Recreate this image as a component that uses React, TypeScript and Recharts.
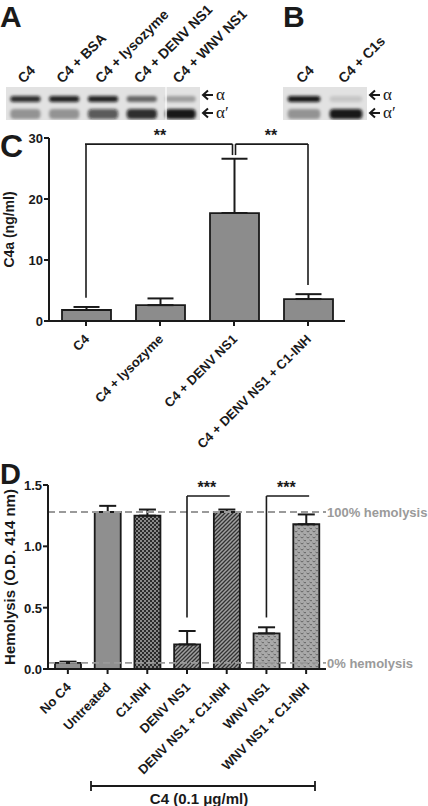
import React from 'react';
import {
  BarChart,
  Bar,
  XAxis,
  YAxis,
  ErrorBar,
  Cell,
  ReferenceLine,
} from 'recharts';

// panel A / B gels: band darkness per lane (0..1)
const gelALanes = ['C4', 'C4 + BSA', 'C4 + lysozyme', 'C4 + DENV NS1', 'C4 + WNV NS1'];
const gelAAlpha = [0.85, 0.9, 0.9, 0.55, 0.3];
const gelAAlphaPrime = [0.35, 0.35, 0.65, 0.85, 0.95];
const gelBLanes = ['C4', 'C4 + C1s'];
const gelBAlpha = [0.95, 0.12];
const gelBAlphaPrime = [0.35, 0.95];

// panel C
const cCategories = ['C4', 'C4 + lysozyme', 'C4 + DENV NS1', 'C4 + DENV NS1 + C1-INH'];
const cMeans = [1.8, 2.6, 17.7, 3.6];
const cErrors = [0.5, 1.1, 8.9, 0.8];
const cTicks = [0, 10, 20, 30];

// panel D
const dCategories = ['No C4', 'Untreated', 'C1-INH', 'DENV NS1', 'DENV NS1 + C1-INH', 'WNV NS1', 'WNV NS1 + C1-INH'];
const dMeans = [0.05, 1.28, 1.25, 0.2, 1.28, 0.29, 1.18];
const dErrors = [0.01, 0.05, 0.05, 0.11, 0.02, 0.05, 0.08];
const dFills = ['solid', 'solid', 'checker', 'hatch', 'hatch', 'dots', 'dots'];
const dTicks = [0, 0.5, 1.0, 1.5];
const fullLysis = 1.28;
const noLysis = 0.05;

const cData = cCategories.map((name, i) => ({ name, value: cMeans[i], err: [0, cErrors[i]] }));
const dData = dCategories.map((name, i) => ({ name, value: dMeans[i], err: [0, dErrors[i]] }));

const FONT = '"Liberation Sans", Arial, sans-serif';
const INK = '#1a1a1a';

const CatTick = ({ x, y, payload }: any) => (
  <text
    x={x + 4}
    y={y + 14}
    transform={`rotate(-45, ${x + 4}, ${y + 14})`}
    textAnchor="end"
    fontFamily={FONT}
    fontWeight="bold"
    fontSize={13}
    fill={INK}
  >
    {payload.value}
  </text>
);

const NumTick = ({ x, y, payload, digits }: any) => (
  <text x={x - 1} y={y + 5} textAnchor="end" fontFamily={FONT} fontWeight="bold" fontSize={13} fill={INK}>
    {digits ? Number(payload.value).toFixed(digits) : payload.value}
  </text>
);

const AxisTitle = ({ viewBox, value, size }: any) => {
  const cx = 9;
  const cy = viewBox.y + viewBox.height / 2;
  return (
    <text
      x={cx}
      y={cy}
      transform={`rotate(-90, ${cx}, ${cy})`}
      textAnchor="middle"
      dominantBaseline="central"
      fontFamily={FONT}
      fontWeight="bold"
      fontSize={size}
      fill={INK}
    >
      {value}
    </text>
  );
};

// bracket pieces drawn as reference segments, nudged sideways a little
const nudged = (dx1: number, dx2: number) => (props: any) => (
  <line
    x1={props.x1 + dx1}
    y1={props.y1}
    x2={props.x2 + dx2}
    y2={props.y2}
    stroke={INK}
    strokeWidth={1.6}
  />
);

const Stars = ({ viewBox, text }: any) => (
  <text
    x={viewBox.x + viewBox.width / 2}
    y={viewBox.y - 3}
    textAnchor="middle"
    fontFamily={FONT}
    fontWeight="bold"
    fontSize={16}
    fill={INK}
  >
    {text}
  </text>
);

const RefLabel = ({ viewBox, text }: any) => (
  <text
    x={viewBox.x + viewBox.width + 1}
    y={viewBox.y + 5}
    fontFamily={FONT}
    fontWeight="bold"
    fontSize={13}
    fill="#9a9a9a"
  >
    {text}
  </text>
);

function Gel({ x, width, lanes, alpha, alphaPrime, split }: any) {
  const laneW = width / lanes.length;
  return (
    <g>
      <rect x={x} y={87} width={width} height={33} fill="#e2e2e2" />
      <g clipPath={`url(#clip${x})`}>
        {lanes.map((_: string, i: number) => {
          const cx = x + laneW * (i + 0.5);
          return (
            <g key={i} filter="url(#blur)">
              <rect x={cx - laneW * 0.39} y={96} width={laneW * 0.78} height={6} rx={3}
                fill="#0a0a0a" opacity={alpha[i]} />
              <rect x={cx - laneW * 0.39} y={109} width={laneW * 0.78} height={10} rx={4}
                fill="#0a0a0a" opacity={alphaPrime[i]} />
            </g>
          );
        })}
      </g>
      <clipPath id={`clip${x}`}>
        <rect x={x} y={87} width={width} height={33} />
      </clipPath>
      {split && <line x1={split} y1={87} x2={split} y2={120} stroke="#fff" strokeWidth={1.2} />}
    </g>
  );
}

function GelLabels({ x, width, lanes }: any) {
  const laneW = width / lanes.length;
  return (
    <g>
      {lanes.map((l: string, i: number) => {
        const sx = x + laneW * (i + 0.5) - 2;
        const sy = 84;
        return (
          <text key={l} x={sx} y={sy} transform={`rotate(-45, ${sx}, ${sy})`}
            fontFamily={FONT} fontWeight="bold" fontSize={14} fill={INK}>
            {l}
          </text>
        );
      })}
    </g>
  );
}

function Arrow({ x, y, label }: any) {
  return (
    <g>
      <path d={`M${x + 11},${y} H${x + 1} M${x + 6},${y - 4.5} L${x + 1},${y} L${x + 6},${y + 4.5}`}
        stroke={INK} strokeWidth={2} fill="none" />
      <text x={x + 14} y={y + 5} fontFamily='"Liberation Serif", serif' fontSize={17} fill={INK}>{label}</text>
    </g>
  );
}

export default function App() {
  const bold = { fontFamily: FONT, fontWeight: 'bold' as const, fill: INK };
  return (
    <div style={{ position: 'absolute', left: 0, top: 0, width: 428, height: 806, background: '#fff', overflow: 'hidden' }}>
      <svg width={428} height={130} style={{ position: 'absolute', left: 0, top: 0 }}>
        <defs>
          <filter id="blur" x="-20%" y="-60%" width="140%" height="220%">
            <feGaussianBlur stdDeviation="1.6 1.4" />
          </filter>
        </defs>
        <text x={0} y={27} fontSize={30} {...bold}>A</text>
        <text x={283} y={27} fontSize={30} {...bold}>B</text>
        <GelLabels x={6} width={194} lanes={gelALanes} />
        <GelLabels x={283} width={84} lanes={gelBLanes} />
        <Gel x={6} width={194} lanes={gelALanes} alpha={gelAAlpha} alphaPrime={gelAAlphaPrime} split={166} />
        <Gel x={283} width={84} lanes={gelBLanes} alpha={gelBAlpha} alphaPrime={gelBAlphaPrime} />
        <Arrow x={202} y={95} label="α" />
        <Arrow x={202} y={113} label="α′" />
        <Arrow x={369} y={95} label="α" />
        <Arrow x={369} y={113} label="α′" />
      </svg>

      <div style={{ position: 'absolute', left: 0, top: 125 }}>
        <BarChart width={428} height={340} data={cData} margin={{ top: 13, right: 83, bottom: 0, left: 0 }}>
          <XAxis
            dataKey="name"
            interval={0}
            height={144}
            tick={<CatTick />}
            tickSize={5}
            tickMargin={0}
            axisLine={{ stroke: INK, strokeWidth: 2 }}
            tickLine={{ stroke: INK, strokeWidth: 2 }}
          />
          <YAxis
            width={49}
            domain={[0, 30]}
            ticks={cTicks}
            tick={<NumTick />}
            tickSize={5}
            tickMargin={0}
            axisLine={{ stroke: INK, strokeWidth: 2 }}
            tickLine={{ stroke: INK, strokeWidth: 2 }}
            label={<AxisTitle value="C4a (ng/ml)" size={14} />}
          />
          <Bar dataKey="value" fill="#8c8c8c" stroke={INK} strokeWidth={1.8} barSize={49} isAnimationActive={false}>
            <ErrorBar dataKey="err" direction="y" width={13} stroke={INK} strokeWidth={2} />
          </Bar>
          <ReferenceLine segment={[{ x: 'C4', y: 3.8 }, { x: 'C4', y: 29 }]} shape={nudged(0, 0)} />
          <ReferenceLine segment={[{ x: 'C4', y: 29 }, { x: 'C4 + DENV NS1', y: 29 }]} shape={nudged(-1, -1.5)}
            label={<Stars text="**" />} />
          <ReferenceLine segment={[{ x: 'C4 + DENV NS1', y: 27.2 }, { x: 'C4 + DENV NS1', y: 29 }]} shape={nudged(-1.5, -1.5)} />
          <ReferenceLine segment={[{ x: 'C4 + DENV NS1', y: 27.2 }, { x: 'C4 + DENV NS1', y: 29 }]} shape={nudged(1.5, 1.5)} />
          <ReferenceLine segment={[{ x: 'C4 + DENV NS1', y: 29 }, { x: 'C4 + DENV NS1 + C1-INH', y: 29 }]} shape={nudged(1.5, 0)}
            label={<Stars text="**" />} />
          <ReferenceLine segment={[{ x: 'C4 + DENV NS1 + C1-INH', y: 5.9 }, { x: 'C4 + DENV NS1 + C1-INH', y: 29 }]} shape={nudged(0, 0)} />
        </BarChart>
        <svg width={40} height={40} style={{ position: 'absolute', left: 0, top: 2 }}>
          <text x={0} y={30} fontSize={32} {...bold}>C</text>
        </svg>
      </div>

      <div style={{ position: 'absolute', left: 0, top: 470 }}>
        <BarChart width={428} height={315} data={dData} margin={{ top: 15, right: 102, bottom: 0, left: 0 }}>
          <defs>
            <pattern id="checker" width={4} height={4} patternUnits="userSpaceOnUse">
              <rect width={4} height={4} fill="#8a8a8a" />
              <rect width={2} height={2} fill="#2b2b2b" />
              <rect x={2} y={2} width={2} height={2} fill="#2b2b2b" />
            </pattern>
            <pattern id="hatch" width={4} height={4} patternUnits="userSpaceOnUse">
              <rect width={4} height={4} fill="#a0a0a0" />
              <path d="M-1,1 l2,-2 M0,4 l4,-4 M3,5 l2,-2" stroke="#333" strokeWidth={1.3} />
            </pattern>
            <pattern id="dots" width={6} height={6} patternUnits="userSpaceOnUse">
              <rect width={6} height={6} fill="#a9a9a9" />
              <path d="M0.5,1 l1.5,1 l1.5,-1 M3.5,4 l1.5,1 l1.5,-1" stroke="#5a5a5a" strokeWidth={0.9} fill="none" />
            </pattern>
          </defs>
          <XAxis
            dataKey="name"
            interval={0}
            height={116}
            tick={<CatTick />}
            tickSize={5}
            tickMargin={0}
            axisLine={{ stroke: INK, strokeWidth: 2 }}
            tickLine={{ stroke: INK, strokeWidth: 2 }}
          />
          <YAxis
            width={48}
            domain={[0, 1.5]}
            ticks={dTicks}
            tick={<NumTick digits={1} />}
            tickSize={5}
            tickMargin={0}
            axisLine={{ stroke: INK, strokeWidth: 2 }}
            tickLine={{ stroke: INK, strokeWidth: 2 }}
            label={<AxisTitle value="Hemolysis (O.D. 414 nm)" size={15} />}
          />
          <Bar dataKey="value" stroke={INK} strokeWidth={1.8} barSize={26} isAnimationActive={false}>
            {dData.map((d, i) => (
              <Cell key={d.name} fill={dFills[i] === 'solid' ? '#8f8f8f' : `url(#${dFills[i]})`} />
            ))}
            <ErrorBar dataKey="err" direction="y" width={8.5} stroke={INK} strokeWidth={2} />
          </Bar>
          <ReferenceLine y={fullLysis} stroke="#9a9a9a" strokeWidth={1.8} strokeDasharray="7 4"
            label={<RefLabel text="100% hemolysis" />} />
          <ReferenceLine y={noLysis} stroke="#9a9a9a" strokeWidth={1.8} strokeDasharray="7 4"
            label={<RefLabel text="0% hemolysis" />} />
          <ReferenceLine segment={[{ x: 'DENV NS1', y: 0.42 }, { x: 'DENV NS1', y: 1.41 }]} shape={nudged(0, 0)} />
          <ReferenceLine segment={[{ x: 'DENV NS1', y: 1.41 }, { x: 'DENV NS1 + C1-INH', y: 1.41 }]} shape={nudged(0, 3)}
            label={<Stars text="***" />} />
          <ReferenceLine segment={[{ x: 'WNV NS1', y: 0.42 }, { x: 'WNV NS1', y: 1.41 }]} shape={nudged(0, 0)} />
          <ReferenceLine segment={[{ x: 'WNV NS1', y: 1.41 }, { x: 'WNV NS1 + C1-INH', y: 1.41 }]} shape={nudged(0, 3)}
            label={<Stars text="***" />} />
        </BarChart>
        <svg width={40} height={40} style={{ position: 'absolute', left: 0, top: -12 }}>
          <text x={0} y={26} fontSize={29} {...bold}>D</text>
        </svg>
      </div>

      <svg width={428} height={30} style={{ position: 'absolute', left: 0, top: 776 }}>
        <path d="M91,5 V15 M91,10 H315 M315,5 V15" stroke={INK} strokeWidth={1.8} fill="none" />
        <text x={199} y={28} textAnchor="middle" fontSize={15} {...bold}>C4 (0.1 μg/ml)</text>
      </svg>
    </div>
  );
}
